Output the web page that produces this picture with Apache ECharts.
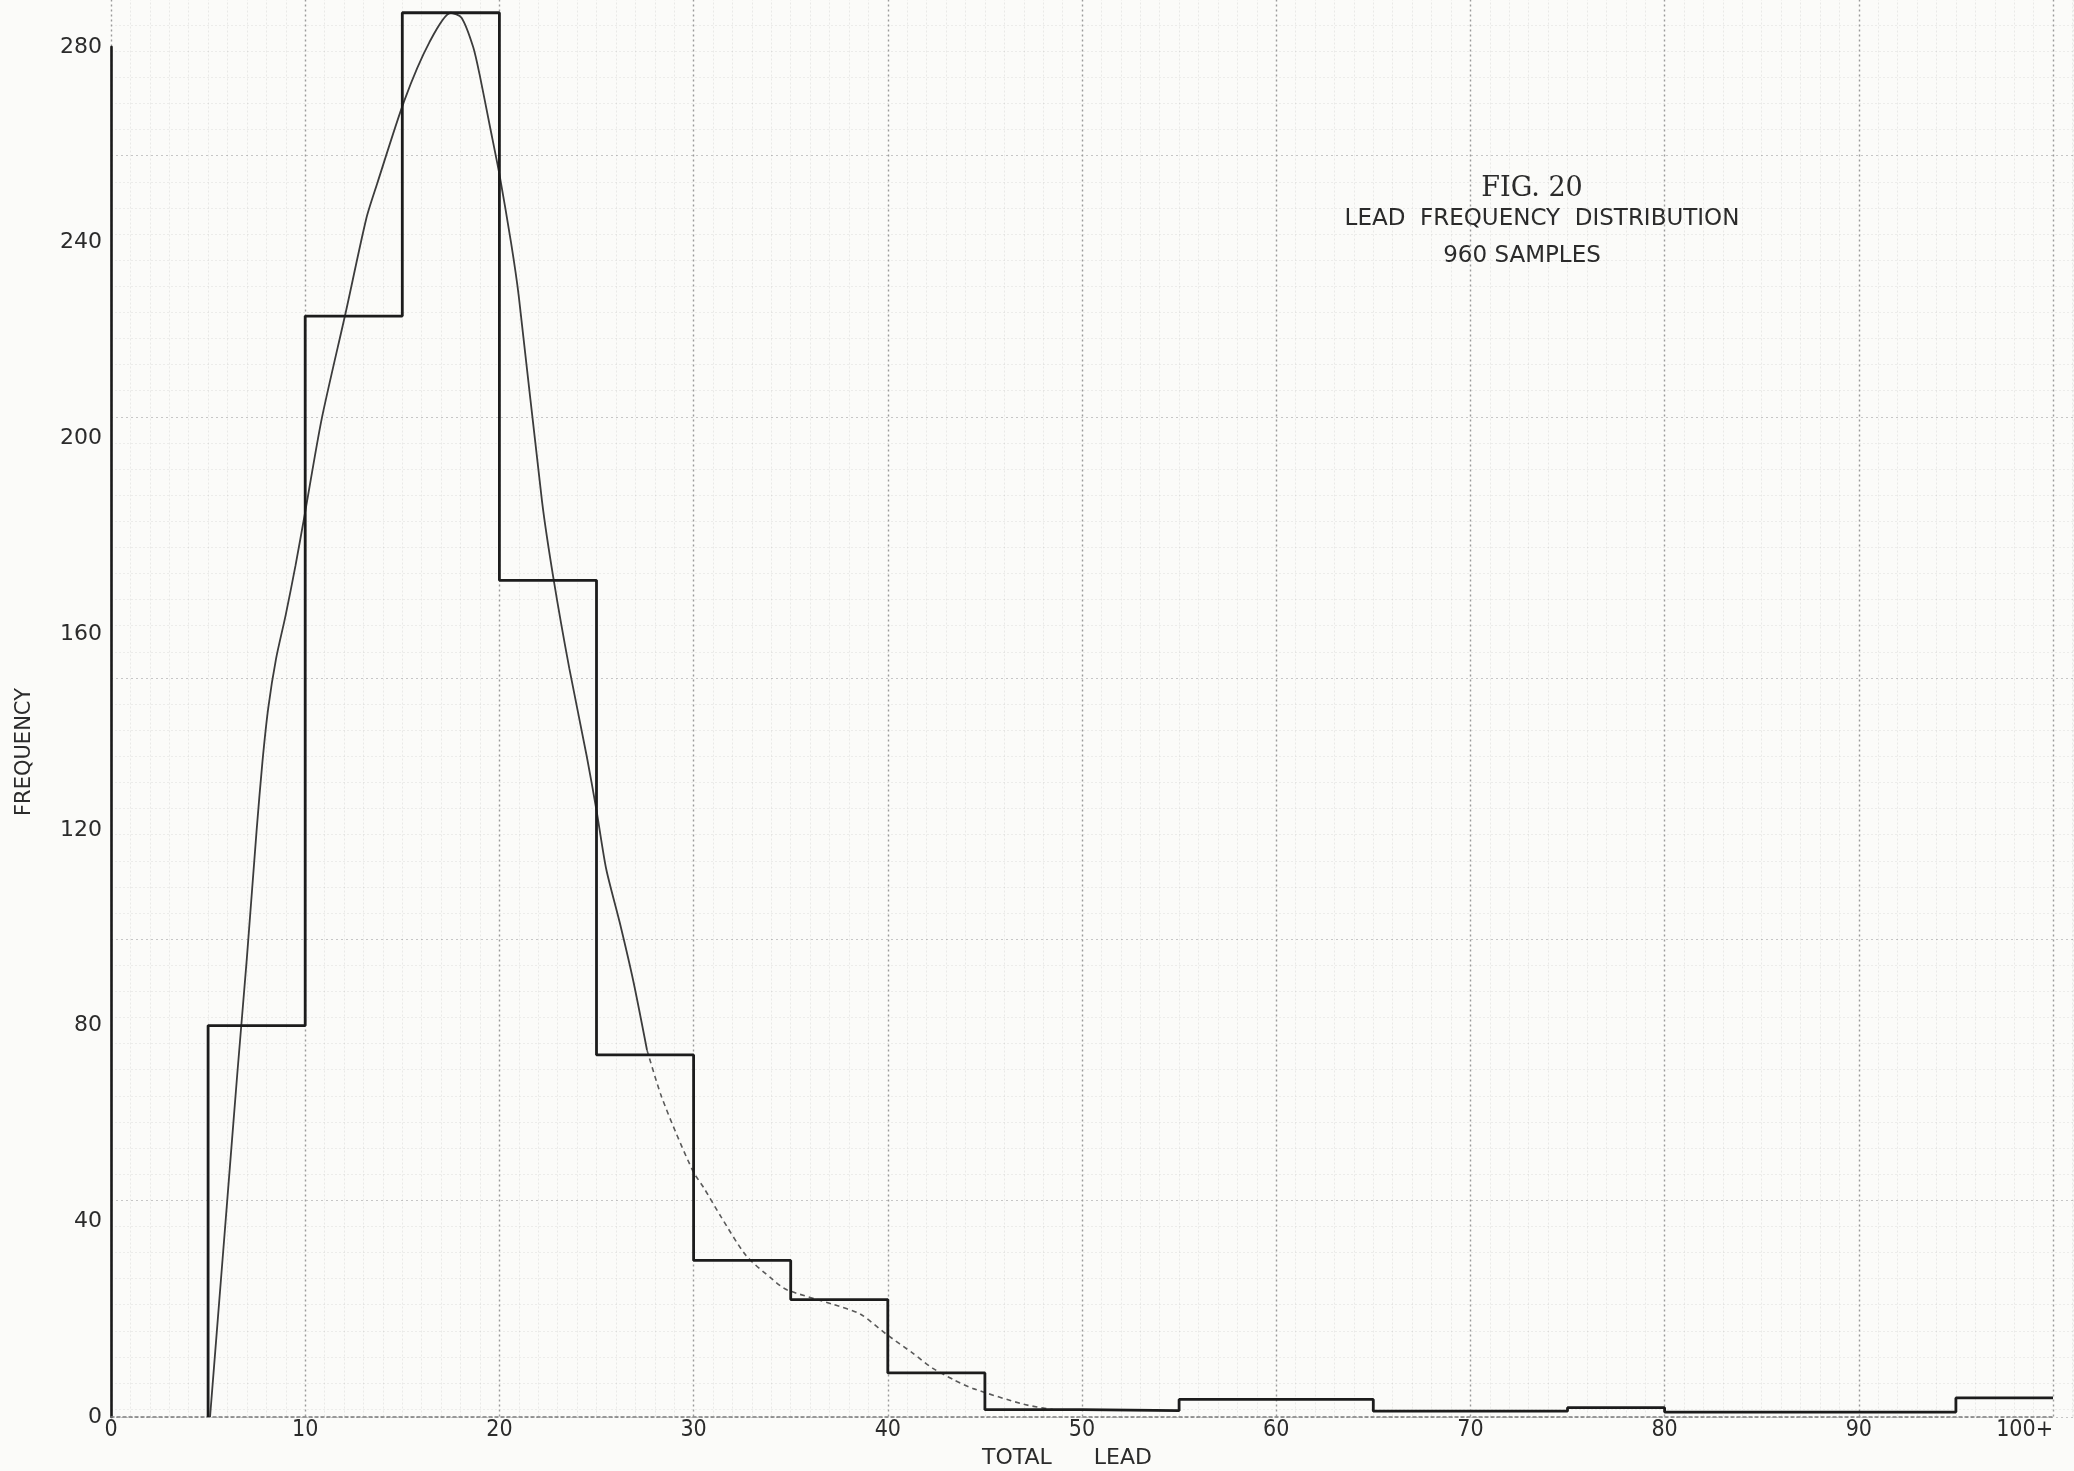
<!DOCTYPE html>
<html>
<head>
<meta charset="utf-8">
<title>FIG. 20 Lead Frequency Distribution</title>
<script src="https://cdn.jsdelivr.net/npm/echarts@6/dist/echarts.min.js"></script>
<style>
  html, body { margin: 0; padding: 0; background: #fbfbf9; }
  #chart { width: 2074px; height: 1471px; }
</style>
</head>
<body>
<div id="chart"></div>
<script>
// histogram classes: left edge of every class, the last edge closes the 100+ class
var classEdges = [5, 10, 15, 20, 25, 30, 35, 40, 45, 50, 55, 65, 75, 80, 95, 100];
var classFreq = [80, 225, 287, 171, 74, 32, 24, 9, 1.5, 1.3, 3.6, 1.2, 1.9, 1.0, 3.9];

// hand drawn fitted curve
var curveX = [5.1, 5.5, 6.0, 6.5, 7.0, 7.5, 7.8, 8.1, 8.5, 9.0, 9.5, 10.0, 10.85, 12.1, 13.15, 13.7,
              15.1, 16.4, 17.5, 18.05, 18.65, 19.0, 19.5, 20.0, 20.6, 21.0, 22.2, 22.8, 23.6, 24.5,
              25.0, 25.5, 26.2, 26.9, 27.6, 28.3, 29.1, 30.0, 30.5, 31.4, 32.7, 34.1, 34.8, 37.2,
              38.6, 39.9, 41.3, 42.3, 43.4, 44.4, 47.0, 48.5];
var curveY = [0, 20, 45, 70, 94, 120, 134, 145, 155, 164, 174, 185, 204, 226, 245, 252,
              269, 281, 287, 286, 280, 274, 264, 254, 240, 229, 187, 171, 153, 135,
              124, 112, 101, 89, 75, 66, 58, 50, 47, 41, 33, 28, 26, 23,
              21, 17, 13, 10, 7.6, 5.8, 2.6, 1.5];
var curveDashFrom = 27.6; // the tail of the curve is only dotted in

// tick labels
var xTicks = [0, 10, 20, 30, 40, 50, 60, 70, 80, 90, 100];
var xTickLabels = ['0', '10', '20', '30', '40', '50', '60', '70', '80', '90', '100+'];
var yTicks = [0, 40, 80, 120, 160, 200, 240, 280];
var yTickLabels = ['0', '40', '80', '120', '160', '200', '240', '280'];

var chart = echarts.init(document.getElementById('chart'));

// step outline of the histogram
var histData = [[classEdges[0], 0]];
for (var i = 0; i < classFreq.length; i++) {
    histData.push([classEdges[i], classFreq[i]]);
}
histData.push([classEdges[classEdges.length - 1], classFreq[classFreq.length - 1]]);

var curveHead = [], curveTail = [];
for (var j = 0; j < curveX.length; j++) {
    if (curveX[j] <= curveDashFrom) curveHead.push([curveX[j], curveY[j]]);
    if (curveX[j] >= curveDashFrom) curveTail.push([curveX[j], curveY[j]]);
}

var sans = "'DejaVu Sans', sans-serif";
var narrow = "'Liberation Sans Narrow', 'DejaVu Sans Condensed', sans-serif";
var ink = '#2b2b2b';

var option = {
    backgroundColor: '#fbfbf9',
    animation: false,
    title: [
        {
            text: 'FIG. 20', left: 1532, top: 189, padding: 0,
            textAlign: 'center', textVerticalAlign: 'middle',
            textStyle: { fontFamily: "'DejaVu Serif', serif", fontSize: 27, fontWeight: 'normal', color: ink }
        },
        {
            text: 'LEAD  FREQUENCY  DISTRIBUTION', left: 1542, top: 219, padding: 0,
            textAlign: 'center', textVerticalAlign: 'middle',
            textStyle: { fontFamily: sans, fontSize: 23, fontWeight: 'normal', color: ink }
        },
        {
            text: '960 SAMPLES', left: 1522, top: 256, padding: 0,
            textAlign: 'center', textVerticalAlign: 'middle',
            textStyle: { fontFamily: sans, fontSize: 23, fontWeight: 'normal', color: ink }
        }
    ],
    grid: [
        { left: 111, right: 21, top: 47, bottom: 54, outerBoundsMode: 'none' },
        // the graph paper behind the drawing
        { left: 111, right: 0, top: -105.5, bottom: 54, outerBoundsMode: 'none' }
    ],
    xAxis: [
        {
            type: 'value', gridIndex: 0, min: 0, max: 100, interval: 10,
            name: 'TOTAL      LEAD', nameLocation: 'middle', nameGap: 27,
            nameTextStyle: { fontFamily: sans, fontSize: 22, color: ink, padding: [0, 30, 0, 0] },
            axisLine: { show: true, lineStyle: { color: '#7a7a7a', width: 1.5, type: [3, 3] } },
            axisTick: { show: false },
            splitLine: { show: false },
            axisLabel: {
                margin: 2, fontFamily: narrow, fontSize: 23, lineHeight: 23, color: ink,
                alignMaxLabel: 'right',
                formatter: function (v) {
                    var k = xTicks.indexOf(v);
                    return k >= 0 ? xTickLabels[k] : '';
                }
            }
        },
        {
            type: 'value', gridIndex: 1, min: 0, max: 101.08, interval: 10,
            axisLine: { show: false }, axisTick: { show: false }, axisLabel: { show: false },
            splitLine: { show: true, lineStyle: { color: '#9a9a9a', width: 1.4, type: [2, 3] } },
            minorTick: { show: false, splitNumber: 10 },
            minorSplitLine: { show: true, lineStyle: { color: 'rgba(0,0,0,0.07)', width: 1, type: [2, 2] } }
        }
    ],
    yAxis: [
        {
            type: 'value', gridIndex: 0, min: 0, max: 280, interval: 40,
            name: 'FREQUENCY', nameLocation: 'middle', nameGap: 76,
            nameTextStyle: { fontFamily: sans, fontSize: 21, color: ink, padding: [0, 40, 0, 0] },
            axisLine: { show: true, lineStyle: { color: '#1a1a1a', width: 2.6 } },
            axisTick: { show: false },
            splitLine: { show: false },
            axisLabel: {
                margin: 9, fontFamily: sans, fontSize: 22, color: ink,
                formatter: function (v) {
                    var k = yTicks.indexOf(v);
                    return k >= 0 ? yTickLabels[k] : '';
                }
            }
        },
        {
            type: 'value', gridIndex: 1, inverse: true, min: 0, max: 58.3, interval: 10,
            axisLine: { show: false }, axisTick: { show: false }, axisLabel: { show: false },
            splitLine: { show: true, lineStyle: { color: '#c6c6c6', width: 1.1, type: [2, 3] } },
            minorTick: { show: false, splitNumber: 10 },
            minorSplitLine: { show: true, lineStyle: { color: 'rgba(0,0,0,0.06)', width: 1, type: [2, 2] } }
        }
    ],
    series: [
        {
            name: 'frequency',
            type: 'line',
            xAxisIndex: 0, yAxisIndex: 0,
            step: 'end',
            clip: false,
            symbol: 'none',
            lineStyle: { color: '#1c1c1c', width: 2.8 },
            data: histData,
            z: 5
        },
        {
            name: 'curve',
            type: 'line',
            xAxisIndex: 0, yAxisIndex: 0,
            smooth: 0.25,
            clip: false,
            symbol: 'none',
            lineStyle: { color: '#3c3c3c', width: 1.8 },
            data: curveHead,
            z: 4
        },
        {
            name: 'curve tail',
            type: 'line',
            xAxisIndex: 0, yAxisIndex: 0,
            smooth: 0.25,
            symbol: 'none',
            lineStyle: { color: '#5a5a5a', width: 1.6, type: [5, 4] },
            data: curveTail,
            z: 4
        }
    ]
};

if (option && typeof option === 'object') {
    chart.setOption(option);
}
</script>
</body>
</html>
